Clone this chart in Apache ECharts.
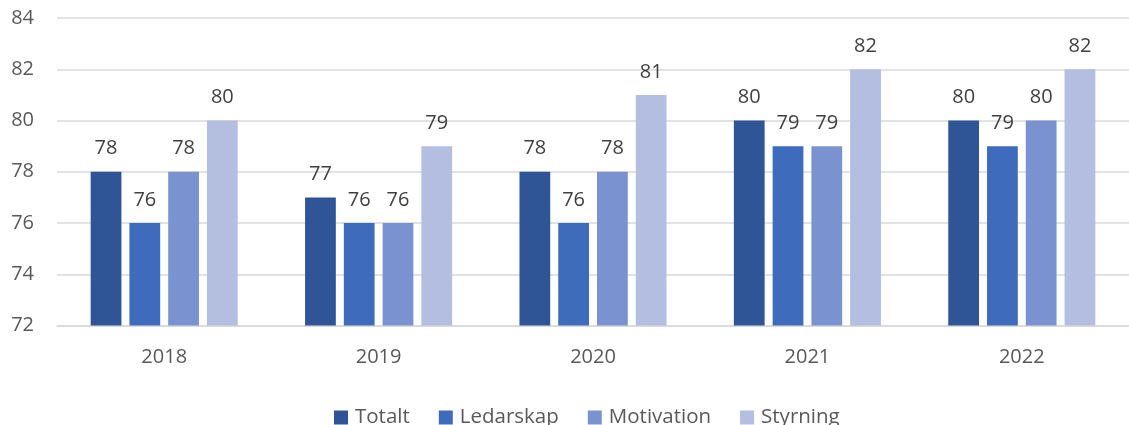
<!DOCTYPE html>
<html>
<head>
<meta charset="utf-8">
<script src="https://cdn.jsdelivr.net/npm/echarts@6/dist/echarts.min.js"></script>
<style>
  html, body { margin: 0; padding: 0; background: #fff; overflow: hidden; }
  #chart { width: 1129px; height: 425px; }
</style>
</head>
<body>
<div id="chart"></div>
<script>
// Survey index per year
const years = ['2018', '2019', '2020', '2021', '2022'];
const totalt = [78, 77, 78, 80, 80];
const ledarskap = [76, 76, 76, 79, 79];
const motivation = [78, 76, 78, 79, 80];
const styrning = [80, 79, 81, 82, 82];
const seriesNames = ['Totalt', 'Ledarskap', 'Motivation', 'Styrning'];
const seriesColors = ['#2F5597', '#3F6BBC', '#7A93D0', '#B3BEE0'];

const font = '"Open Sans", "Noto Sans", sans-serif';
const chart = echarts.init(document.getElementById('chart'));

function bar(name, data, color) {
  return {
    name: name,
    type: 'bar',
    data: data,
    barGap: '26%',
    barCategoryGap: '31.4%',
    itemStyle: { color: color },
    label: {
      show: true,
      position: 'top',
      distance: 13,
      fontFamily: font,
      fontSize: 20,
      color: '#404040'
    }
  };
}

chart.setOption({
  animation: false,
  // plot area runs slightly past the right edge of the canvas
  grid: { left: 57, right: -7, top: 18, bottom: 99.5 },
  legend: {
    top: 402,
    left: 329,
    itemWidth: 14,
    itemHeight: 14,
    itemGap: 29,
    icon: 'rect',
    textStyle: { fontFamily: font, fontSize: 20.5, color: '#595959', padding: [0, 0, 0, 2] },
    data: seriesNames
  },
  xAxis: {
    type: 'category',
    data: years,
    axisLine: { lineStyle: { color: '#D9D9D9', width: 1.5 } },
    axisTick: { show: false },
    axisLabel: { fontFamily: font, fontSize: 20, color: '#595959', margin: 22 }
  },
  yAxis: {
    type: 'value',
    min: 72,
    max: 84,
    interval: 2,
    axisLine: { show: false },
    axisTick: { show: false },
    splitLine: { lineStyle: { color: '#D9D9D9', width: 1.5 } },
    axisLabel: { fontFamily: font, fontSize: 20, color: '#595959', margin: 23, padding: [3, 0, 0, 0] }
  },
  series: [
    bar(seriesNames[0], totalt, seriesColors[0]),
    bar(seriesNames[1], ledarskap, seriesColors[1]),
    bar(seriesNames[2], motivation, seriesColors[2]),
    bar(seriesNames[3], styrning, seriesColors[3])
  ]
});
</script>
</body>
</html>
